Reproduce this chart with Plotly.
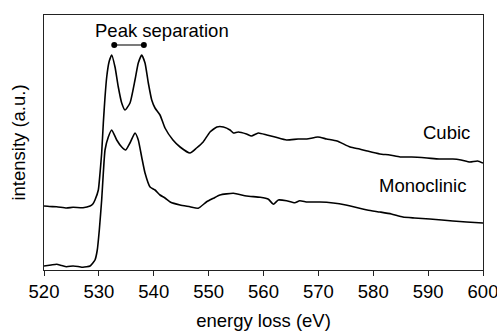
import plotly.graph_objects as go

# Energy loss (eV) and intensity (a.u.)
cubic_e = [520, 521, 522.3, 524.1, 525.3, 527.1, 528.4, 528.9, 529.29, 529.9, 530.21, 530.51,
           530.81, 531.12, 531.43, 531.85, 532.34, 532.94, 533.54, 534.16, 534.76, 535.67,
           536.58, 537.18, 537.8, 538.41, 539.01, 539.63, 540.23, 541.14, 542.05, 543.5,
           544.8, 546.6, 547.8, 549.0, 550.25, 551.5, 552.7, 553.9, 554.5, 555.4, 556.9,
           557.8, 559.05, 560.6, 562.1, 564.2, 566.3, 567.9, 569.9, 571.5, 573.4, 575.8,
           577.5, 578.9, 581.2, 583, 584.9, 587, 589.8, 592, 594.5, 596, 597.6, 599, 600]
cubic_i = [64, 63.5, 63.3, 62, 62.7, 62.3, 64, 66, 70, 80, 97, 117,
           147, 173, 193, 208, 215, 203, 183, 167, 160, 167,
           190, 207, 215, 207, 187, 170, 162, 155, 142, 130,
           123, 117, 122, 128, 138, 143, 143, 140, 137, 138, 136,
           134, 137, 135, 133, 130, 131, 131, 133, 131, 129, 123,
           121, 119, 116, 115, 113, 113, 112, 111, 111, 110, 108, 109, 107]

mono_e = [520, 521.3, 522.3, 523.2, 524.1, 525.3, 526.2, 527.1, 528.4, 528.9, 529.29,
          529.71, 530.08, 530.51, 530.81, 531.12, 531.72, 532.34, 533.25, 534.16, 534.89,
          535.67, 536.58, 537.18, 537.8, 538.41, 539.33, 540.23, 541.14, 542.05, 543,
          544.8, 546.6, 548.1, 549.65, 550.85, 552.07, 554.5, 556.9, 559.4, 560.9, 561.8,
          562.7, 564.2, 565.7, 566.6, 568, 570.3, 572.7, 575, 578.9, 581.2, 583.3, 585.4,
          587.5, 590.3, 592.5, 594.5, 597, 600]
mono_i = [4, 5, 5.7, 4.5, 3.3, 4, 3.5, 2.7, 4, 7, 10,
          20, 40, 70, 97, 120, 133, 140, 130, 123, 120,
          127, 137, 130, 113, 97, 83, 80, 75, 72, 68,
          65, 63.3, 61.7, 68.3, 71.7, 75, 76.7, 74, 72.7, 70.7, 65.7,
          70, 69.3, 67.3, 69.3, 68, 68, 67, 65, 60, 58, 56, 53,
          52, 51, 50, 49, 48, 47]

sep_e = [532.8, 538.2]
sep_i = [225, 225]

x_ticks = [520, 530, 540, 550, 560, 570, 580, 590, 600]

FONT = "Liberation Sans, Arial, Helvetica, sans-serif"
FS = 18.5

fig = go.Figure()
for xs, ys in ((cubic_e, cubic_i), (mono_e, mono_i)):
    fig.add_trace(go.Scatter(x=xs, y=ys, mode="lines",
                             line=dict(color="black", width=1.6, shape="spline", smoothing=0.5),
                             showlegend=False, hoverinfo="skip"))
fig.add_trace(go.Scatter(x=sep_e, y=sep_i, mode="lines+markers",
                         line=dict(color="#333", width=1.3),
                         marker=dict(color="black", size=6),
                         showlegend=False, hoverinfo="skip"))

fig.add_annotation(x=541.5, y=240, text="Peak separation", showarrow=False,
                   xanchor="center", yanchor="middle", font=dict(size=FS, color="black", family=FONT))
fig.add_annotation(x=598.0, y=138, text="Cubic", showarrow=False,
                   xanchor="right", yanchor="middle", font=dict(size=FS, color="black", family=FONT))
fig.add_annotation(x=597.3, y=85, text="Monoclinic", showarrow=False,
                   xanchor="right", yanchor="middle", font=dict(size=FS, color="black", family=FONT))

fig.update_layout(
    width=497, height=331,
    margin=dict(l=44, r=14, t=15, b=61),
    paper_bgcolor="white", plot_bgcolor="white",
    font=dict(family=FONT, size=FS, color="black"),
    xaxis=dict(range=[520, 600], tickvals=x_ticks, ticktext=[str(v) for v in x_ticks],
               showgrid=False, zeroline=False, showline=True, linecolor="#222", linewidth=1.2,
               mirror=True, ticks="outside", ticklen=5, tickwidth=1.2, tickcolor="#222",
               ticklabeloverflow="allow", automargin=False,
               tickfont=dict(size=FS, family=FONT),
               title=dict(text="energy loss (eV)", standoff=14, font=dict(size=FS, family=FONT))),
    yaxis=dict(range=[0, 255], showgrid=False, zeroline=False, showline=True, automargin=False,
               linecolor="#222", linewidth=1.2, mirror=True, ticks="", showticklabels=False,
               title=dict(text="intensity (a.u.)", standoff=12, font=dict(size=FS, family=FONT))),
)

fig.write_html("out.html")
